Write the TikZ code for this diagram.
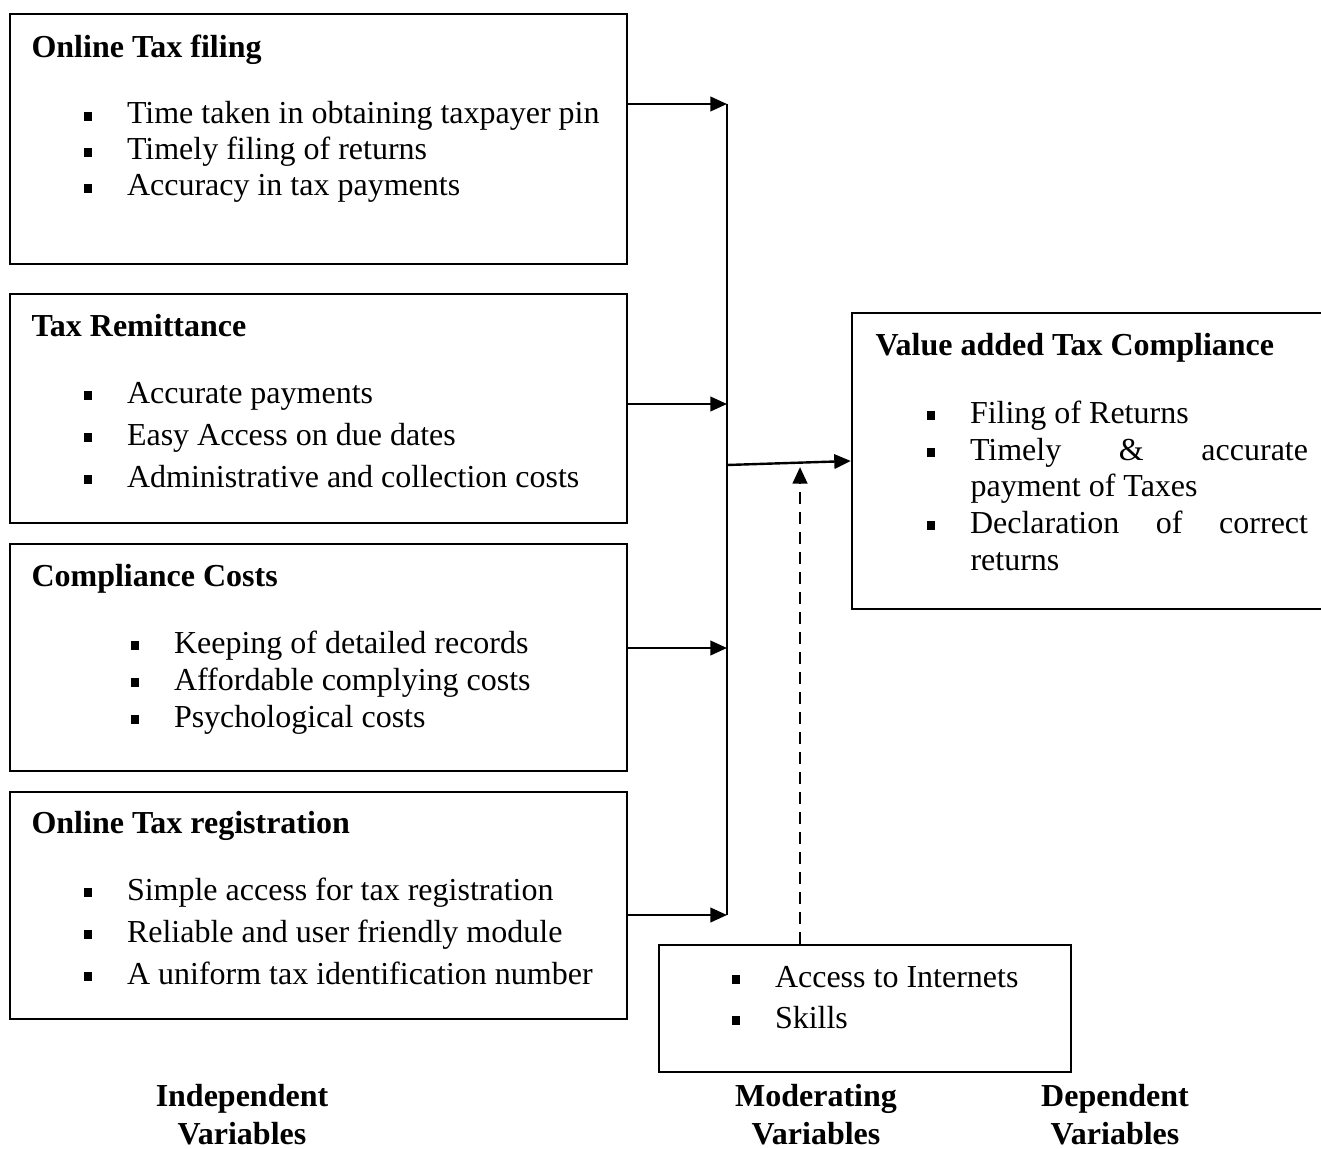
\documentclass[tikz,border=0pt]{standalone}
\usepackage{fontspec}
\setmainfont{Liberation Serif}
\usepackage{tikz}
\usetikzlibrary{arrows.meta}
\usetikzlibrary{fit,positioning}
\tikzset{var-box/.style={draw, line width=0.9pt, inner sep=0pt}}
\tikzset{var-title/.style={anchor=base west, inner sep=0pt, font=\fontsize{12pt}{14pt}\selectfont\bfseries}}
\tikzset{var-item/.style={anchor=base west, inner sep=0pt, font=\fontsize{12pt}{14pt}\selectfont}}
\tikzset{var-label/.style={align=center, inner sep=0pt, font=\fontsize{12pt}{14.25pt}\selectfont\bfseries}}
\tikzset{var-link/.style={line width=0.9pt}}
\tikzset{>={Triangle[length=6.2pt,width=5.4pt]}}
\newcommand{\sqbul}{\rule[1.3pt]{3.3pt}{3.3pt}\hspace{13pt}}

\begin{document}
\begin{tikzpicture}[x=0.375pt, y=-0.375pt]
            \useasboundingbox (0,0) rectangle (1321,1148);
            \clip (0,0) rectangle (1321,1148);

            \node [var-box, fit={(10,14) (627,264)}] (filing) {};
            \node [var-title] (filing-title) at (31,58) {Online Tax filing};
            \foreach \txt [count=\k] in {Time taken in obtaining taxpayer pin, Timely filing of returns, Accuracy in tax payments}
                \node [var-item] (filing-\k) at (83, 88+36*\k) {\sqbul\txt};

            \node [var-box, fit={(10,294) (627,523)}] (remit) {};
            \node [var-title] (remit-title) at (31,336) {Tax Remittance};
            \foreach \txt [count=\k] in {Accurate payments, Easy Access on due dates, Administrative and collection costs}
                \node [var-item] (remit-\k) at (83, 361+42*\k) {\sqbul\txt};

            \node [var-box, fit={(10,544) (627,771)}] (costs) {};
            \node [var-title] (costs-title) at (31,586) {Compliance Costs};
            \foreach \txt [count=\k] in {Keeping of detailed records, Affordable complying costs, Psychological costs}
                \node [var-item] (costs-\k) at (130, 616+37*\k) {\sqbul\txt};

            \node [var-box, fit={(10,792) (627,1019)}] (reg) {};
            \node [var-title] (reg-title) at (31,833) {Online Tax registration};
            \foreach \txt [count=\k] in {Simple access for tax registration, Reliable and user friendly module, A uniform tax identification number}
                \node [var-item] (reg-\k) at (83, 858+42*\k) {\sqbul\txt};

            \node [var-box, fit={(852,313) (1340,609)}] (vat) {};
            \node [var-title] (vat-title) at (875,355) {Value added Tax Compliance};
            \node [var-item] (vat-1) at (926,423) {\sqbul Filing of Returns};
            \node [var-item] (vat-2) at (926,460) {\sqbul\makebox[126.75pt][s]{Timely\hfill\&\hfill accurate}};
            \node [var-item] (vat-3) at (970,496) {payment of Taxes};
            \node [var-item] (vat-4) at (926,533) {\sqbul\makebox[126.75pt][s]{Declaration\hfill of\hfill correct}};
            \node [var-item] (vat-5) at (970,570) {returns};

            \node [var-box, fit={(659,945) (1071,1072)}] (mod) {};
            \foreach \txt [count=\k] in {Access to Internets, Skills}
                \node [var-item] (mod-\k) at (731, 946+41*\k) {\sqbul\txt};

            \node [var-label] (indep-label) at (242,1115) {Independent\\Variables};
            \node [var-label] (mod-label) at (816,1115) {Moderating\\Variables};
            \node [var-label] (dep-label) at (1115,1115) {Dependent\\Variables};

            \coordinate (join-1) at (727,104);
            \coordinate (join-2) at (727,404);
            \coordinate (join-3) at (727,648);
            \coordinate (join-4) at (727,915);
            \coordinate (hub) at (727,465);
            \coordinate (mod-in) at (800,467);

            \draw [line width=0.75pt] (join-1) -- (join-4);
            \draw [var-link, ->] (filing.east |- join-1) -- (join-1);
            \draw [var-link, ->] (remit.east |- join-2) -- (join-2);
            \draw [var-link, ->] (costs.east |- join-3) -- (join-3);
            \draw [var-link, ->] (reg.east |- join-4) -- (join-4);
            \draw [var-link, ->] (hub) -- (vat.west);
            \draw [line width=1.1pt, ->, dash pattern=on 4.5pt off 3pt] (mod.north -| mod-in) -- (mod-in);
        \end{tikzpicture}
\end{document}
